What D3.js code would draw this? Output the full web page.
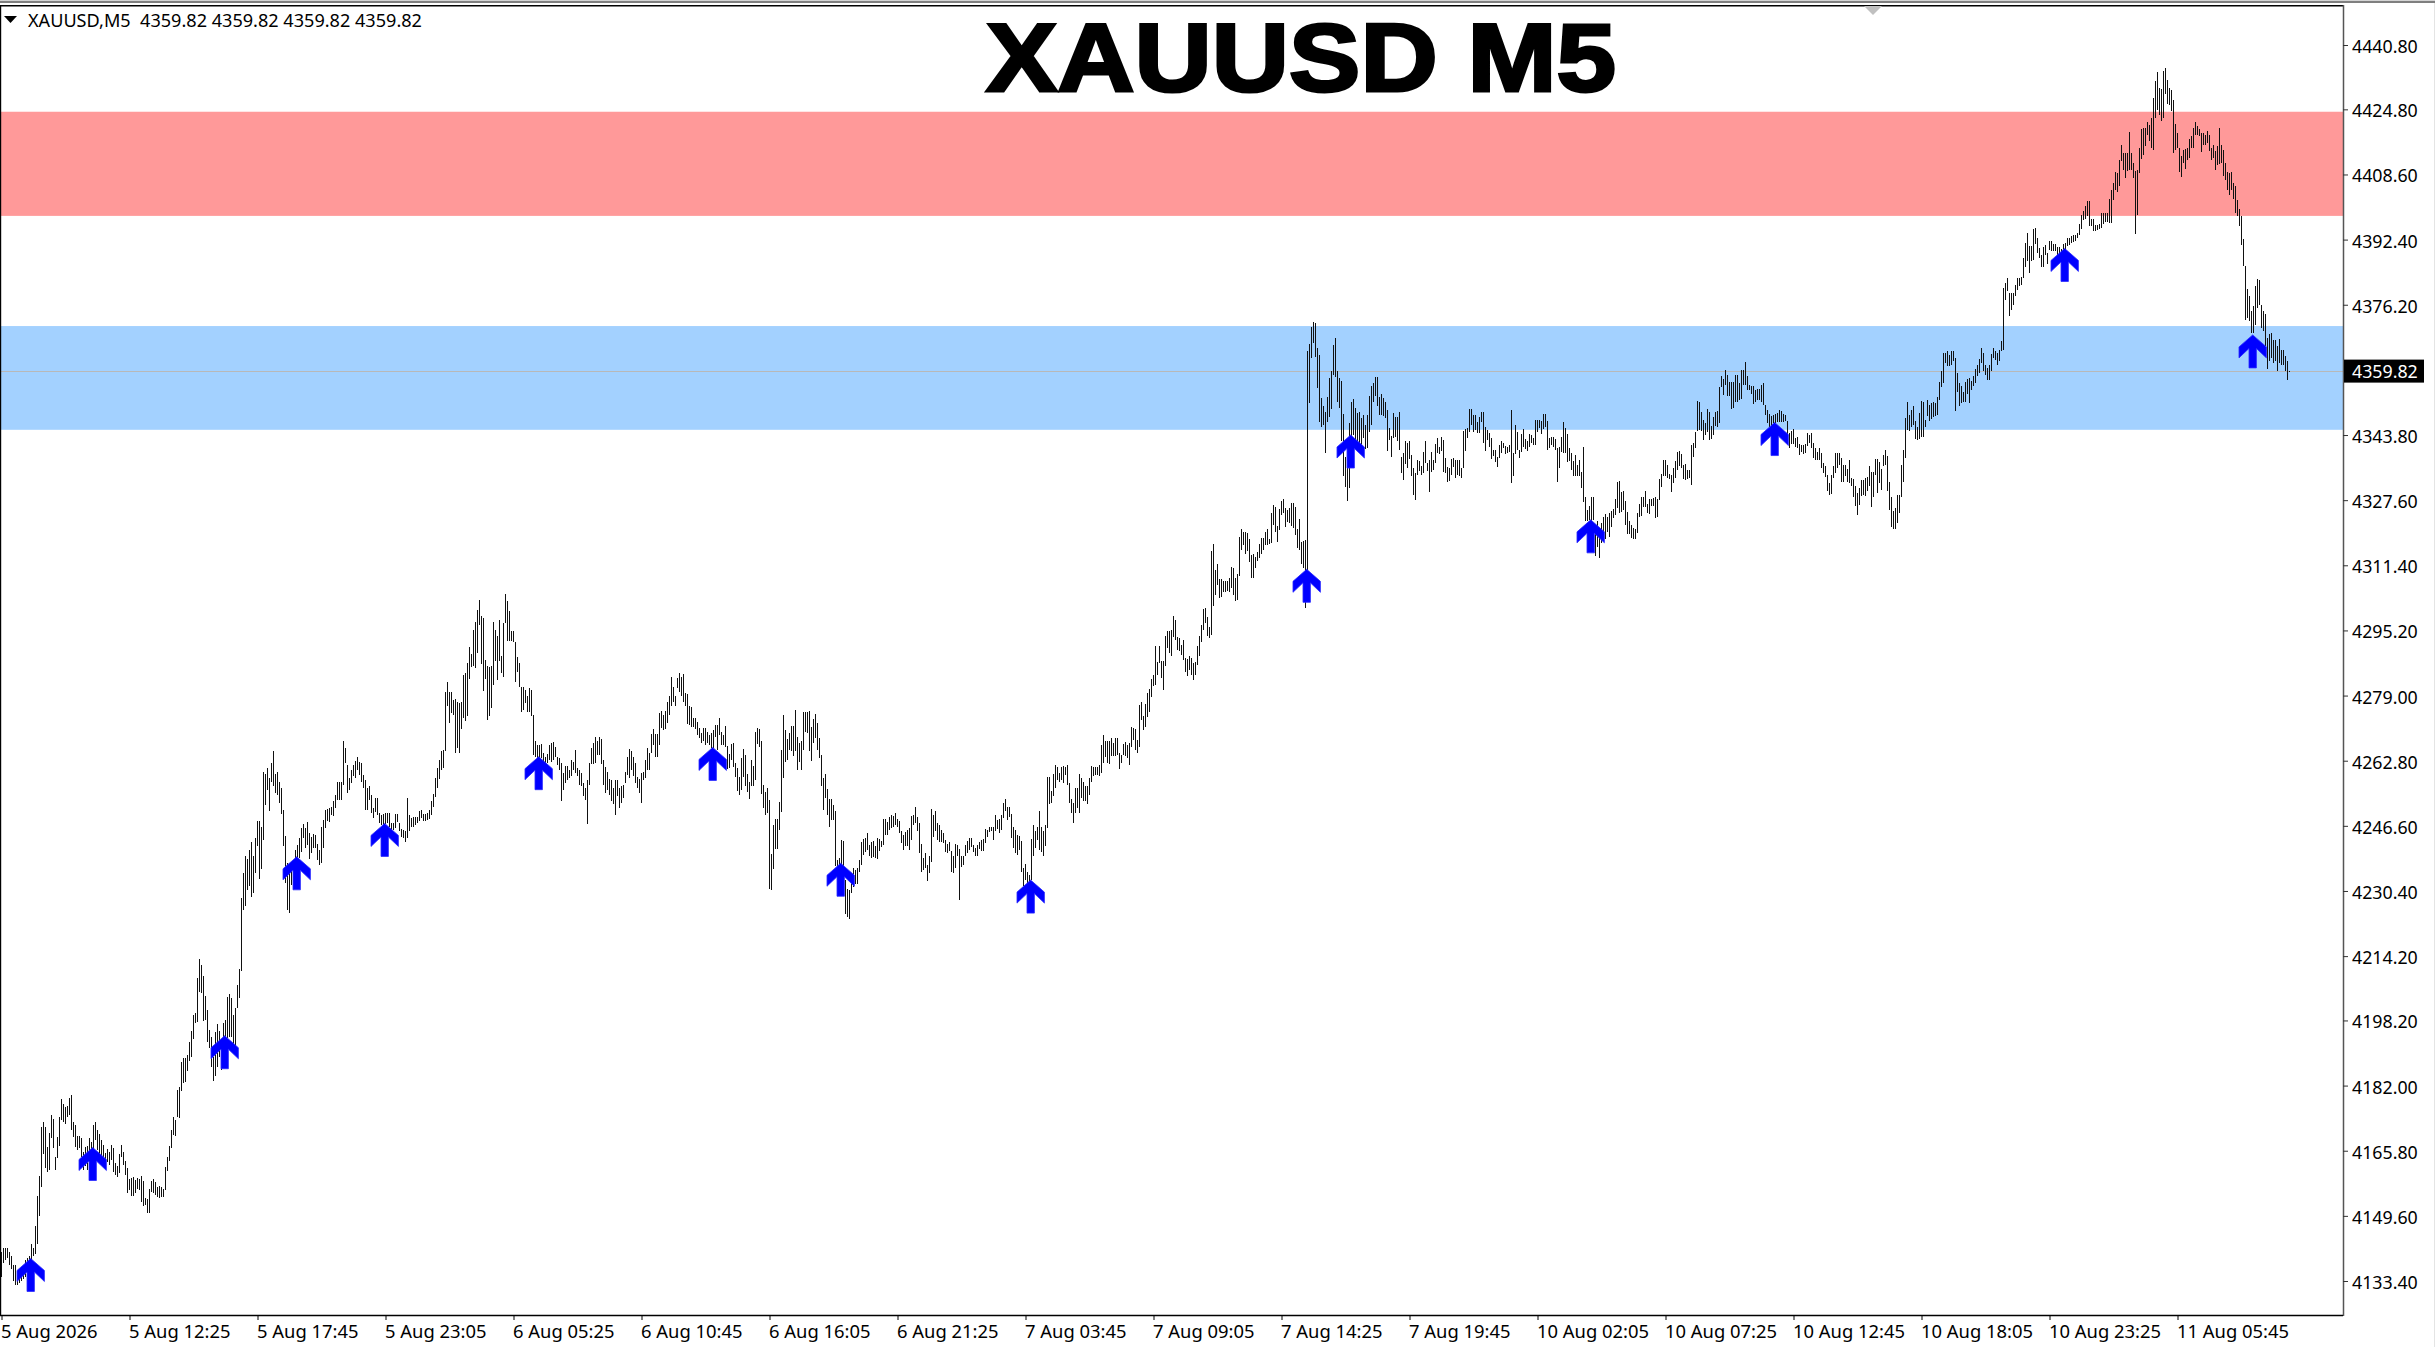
<!DOCTYPE html>
<html><head><meta charset="utf-8">
<script src="https://cdn.jsdelivr.net/npm/d3@7"></script>
<style>html,body{margin:0;padding:0;background:#fff;overflow:hidden}svg{display:block}</style>
</head><body><svg id="c" width="2435" height="1347"></svg>
<script>
const barHigh=[
4140.5,4141.5,4141.5,4141.5,4140.5,4139.5,4137.5,4137.5,4135,4135,
4135.5,4136.5,4138.5,4139,4139.5,4142.5,4141.5,4147,4154.5,4159.5,
4171.8,4173,4171.8,4166.8,4170.1,4174.7,4173.7,4164.3,4169.3,4174.3,
4178.7,4177.4,4176.7,4177,4178.8,4179.7,4173,4172.2,4169.5,4169.5,
4169,4165.6,4166.8,4167,4169,4168,4172.2,4172.9,4171,4170,
4168.5,4167.2,4165.2,4166.2,4165.6,4167.2,4166.4,4162.7,4162,4165,
4167.2,4165.6,4163.3,4161.4,4158.7,4159.1,4159.3,4158.5,4158.9,4158.7,
4159.5,4158.3,4154.1,4153.7,4156.2,4158.3,4158.7,4157.9,4156.7,4157,
4156.7,4156.4,4161.7,4164.3,4167,4171,4174.3,4173.4,4180.9,4181.6,
4187.8,4188.8,4188.8,4189.6,4192.9,4195.6,4199.6,4200,4208.7,4213.5,
4212,4209.3,4204.3,4200.8,4195.8,4194,4189.2,4195.4,4197.2,4195.6,
4191.7,4197.5,4198.3,4204.1,4204.8,4203.7,4199.6,4201.2,4207,4210.9,
4228.6,4234.8,4239,4238.3,4240.6,4242.7,4239,4243.5,4247.8,4247.7,
4246.4,4259.9,4259.5,4261,4258.5,4262.2,4265.3,4259.5,4259.9,4257.6,
4256,4250.6,4244,4237.3,4235.7,4235.7,4234.8,4240.6,4241.9,4243.5,
4246,4247,4246,4247.5,4244.8,4243.8,4244.6,4244.4,4242,4240.6,
4246.4,4248.1,4250.6,4250.8,4251,4251.4,4252.7,4254.3,4257.5,4257.6,
4257.6,4267.7,4265.9,4261.8,4258.5,4260.5,4261.8,4262.8,4263.6,4262.4,
4262.2,4259.3,4258,4256,4256.4,4254.3,4251,4253.5,4253.5,4249.9,
4249.3,4249.5,4249.8,4249.8,4249.9,4247.3,4247.4,4249.6,4249.5,4247.4,
4245.8,4245.6,4245.2,4253.5,4249.3,4248.5,4248.7,4248.8,4248.9,4250.3,
4250.6,4249.5,4249.5,4249.8,4250.6,4252.7,4254.6,4258.5,4261,4263,
4265.3,4265.5,4280,4282.3,4280,4279.9,4278,4278.1,4277.3,4277.1,
4277.3,4284.2,4284.7,4287.2,4291.2,4289.4,4295.4,4297.2,4300.3,4302.8,
4298.7,4298.4,4287.9,4286.4,4286,4286.4,4297.4,4295.4,4293.7,4297.7,
4288.9,4297,4304.3,4302.4,4300.1,4295,4295.1,4292.3,4288.6,4287.2,
4281.1,4281.1,4280.4,4279,4280.9,4280.4,4274.2,4267.7,4266.8,4266.8,
4267,4264.7,4263.8,4264.5,4266.8,4267.2,4267.4,4266.3,4263.8,4263.4,
4262.2,4259.7,4261.4,4261.4,4260.5,4263,4262.6,4265.5,4261,4260.5,
4259.7,4257.2,4256,4258,4262.2,4265.9,4267.2,4268.6,4267.6,4268.7,
4268.3,4263,4261.2,4260.1,4258.3,4258,4256,4258,4258,4256,
4256.6,4256.8,4260.1,4263.8,4265.7,4265.1,4263.8,4262.2,4258.7,4258.3,
4259.7,4259.9,4262.9,4265.9,4264.8,4269.5,4270.7,4269.5,4269.5,4274.6,
4275.2,4274.2,4275.2,4277.5,4279,4283.6,4281.1,4278.8,4283.3,4284.7,
4283.5,4284.3,4279.6,4279.4,4276.3,4276.1,4273.5,4273.5,4272.4,4271,
4269.6,4270.9,4270.9,4269.9,4269.2,4269.8,4270.5,4271.7,4271.7,4273.4,
4270,4269.2,4271.5,4266.5,4264.5,4267,4267.1,4262.2,4260.9,4258.7,
4263.4,4265.7,4264.2,4259.5,4257.4,4263,4261.5,4270,4270.9,4270.6,
4267.7,4256.8,4255.1,4256,4253,4239.6,4246.8,4248.3,4248.3,4252.5,
4265.5,4274.2,4270.5,4268.1,4269.6,4271.5,4271.5,4275.4,4268.8,4267.1,
4267.6,4274.9,4274.9,4274.9,4275.2,4271.3,4273.1,4274.4,4272.1,4268.4,
4264.2,4258.4,4259.5,4255.7,4253.2,4253.2,4251.8,4250.3,4238.1,4238.5,
4243.1,4242.8,4233.2,4230.8,4230.7,4232.3,4236,4235.5,4236,4238.1,
4242.5,4243.3,4243.5,4244.8,4241.9,4242.5,4242.9,4241.7,4243.7,4243.3,
4242.9,4248.3,4248.3,4247.5,4248.9,4249.2,4249.1,4249.7,4248.3,4247.8,
4245.2,4244.2,4245,4245.6,4246,4249.1,4249.2,4251.2,4248.7,4247.2,
4242.1,4238.7,4239.8,4236.9,4239,4250.7,4249.3,4250.3,4247.2,4246.7,
4245.6,4244.8,4243.1,4242.1,4242.5,4240.4,4239.1,4242.1,4241.9,4240.9,
4239,4239.2,4241.9,4242.9,4243.5,4243.5,4241.8,4241.2,4241.8,4242.5,
4243.1,4243.3,4245.8,4245.6,4246.4,4246.4,4246.2,4249.2,4248.1,4248.2,
4249.3,4252.4,4253.3,4251.4,4251.4,4249.5,4246.4,4245.6,4244.4,4244.1,
4242.9,4236.1,4237,4235.2,4234.4,4243.3,4246.8,4245.3,4246.2,4250.3,
4246.2,4245.2,4246.8,4258.7,4258.7,4255.3,4259.4,4261.8,4261.3,4259.7,
4261.2,4261.5,4261.3,4261.8,4257.2,4253.2,4252.4,4255.9,4255.9,4259.4,
4258.4,4257.6,4256.4,4256.6,4258.6,4261.5,4261.3,4261.2,4261.2,4261.8,
4266.7,4269.2,4267.8,4267.7,4267.6,4268.4,4267.2,4268.4,4268.4,4264.7,
4264.3,4267,4267.4,4266.8,4267.2,4271.2,4270.9,4270.7,4268,4276.7,
4277.3,4273.8,4277,4279.6,4280.6,4283,4284.2,4291.4,4287.3,4291.4,
4287.5,4287.5,4293.9,4295.1,4295,4295.4,4298.9,4297.9,4293.5,4293.3,
4291.7,4292.9,4288.3,4288.1,4288.8,4288.3,4287.1,4287.3,4291.4,4293.9,
4296.6,4300.6,4300.9,4298.5,4296,4315,4316.8,4310.2,4311.6,4308,
4308.1,4307.4,4307.4,4307.4,4308.2,4310.9,4310.7,4308.2,4309.3,4318.4,
4320.4,4319.8,4319.6,4319.4,4317.9,4314,4314.3,4313.5,4314.6,4316.8,
4318.2,4318.2,4319.8,4320.5,4317.9,4324.4,4326.5,4325.9,4321.1,4325.4,
4327.3,4328,4325.6,4325.2,4325.6,4326.9,4326.9,4325.8,4320.5,4322.9,
4317.1,4317.5,4317.7,4364.8,4366.4,4370.6,4371.8,4371.6,4365.4,4363.7,
4352.9,4351,4349.6,4353.2,4357.9,4359.6,4366.2,4367.9,4359.8,4357.9,
4357.3,4349,4338.4,4335.9,4346.7,4351.9,4352.8,4350.4,4349.2,4349.6,
4348,4348.8,4346.3,4348.8,4353.4,4356,4356.8,4358.3,4358.2,4353.2,
4353.9,4352.9,4351.9,4350,4345.5,4343.6,4349.4,4348.4,4348.2,4349.5,
4338.3,4339.4,4342.2,4341.7,4342.3,4338.8,4335.5,4334.4,4337.6,4337.4,
4336.2,4339.7,4342.3,4336.8,4337.6,4339.7,4337.6,4341.5,4343,4340.9,
4343.2,4342.6,4338,4335.9,4335.7,4337.8,4338,4337.6,4337.6,4337.6,
4335.5,4344.8,4345.2,4345.5,4350.2,4350.2,4348.8,4348.8,4347.1,4348.4,
4349.6,4349.5,4345.7,4345,4344.4,4343,4340.1,4340.1,4338.4,4341.3,
4342.4,4341.7,4341.1,4340.9,4341.3,4350,4339.3,4346.3,4344.6,4340.1,
4344,4345.2,4342.7,4342.3,4344,4343.8,4343,4347.5,4347.5,4347.5,
4347.4,4349,4349,4347.3,4343.1,4343.4,4343.4,4342.8,4340.5,4340.9,
4343.4,4347.1,4345.5,4344.1,4340.5,4339.3,4337.4,4338.8,4336.4,4337.6,
4334.7,4340.9,4328.5,4325.2,4326.2,4328.3,4328.3,4319.4,4322.3,4319.4,
4321.8,4323.3,4324.1,4323.5,4324.3,4325,4325.4,4328,4332.2,4332.4,
4329.7,4330,4327.4,4324.7,4322.4,4321.4,4320.6,4320.4,4324.3,4326.7,
4328.5,4328.5,4329.9,4326.7,4327.8,4327.8,4328.2,4328.5,4327.8,4332.9,
4334.1,4337.6,4337.6,4336.4,4334,4333.9,4335.5,4337.4,4339.7,4339.9,
4339.1,4336.4,4336.5,4335.1,4335.1,4341.2,4341.9,4344.6,4352.3,4352.1,
4349.6,4347.5,4346.7,4350.3,4349.6,4346.1,4348.4,4349.6,4349.8,4355.7,
4358.5,4357.7,4360,4358.7,4357.1,4357.1,4357.1,4358.7,4358.7,4356.7,
4360,4360,4361.9,4358.5,4356.3,4356.1,4356.1,4355,4355.3,4355.3,
4356.3,4356.7,4351.3,4349.9,4349.1,4348.6,4348.7,4349,4349.4,4350.1,
4349.7,4349.1,4348.8,4347.2,4344.3,4344.7,4345.3,4343,4343.3,4341.6,
4341.4,4341.2,4341.6,4344.3,4343.9,4344.3,4341.8,4340.5,4339.7,4340.5,
4339.3,4336.8,4336,4333.9,4331.8,4333.9,4336,4339.3,4339.3,4339.3,
4338,4336.4,4336.4,4335.3,4337.6,4333.1,4332.8,4331,4329.3,4330.6,
4332.5,4332.7,4333.1,4333.3,4336,4334.6,4334.6,4337.9,4337.9,4337.2,
4335.4,4338.9,4340.1,4338.7,4332.1,4328.3,4324.8,4325.6,4328.9,4328.9,
4336.4,4340,4348,4352,4348.8,4350.1,4350.9,4347.2,4345.8,4349.4,
4352.3,4352.1,4347.6,4352.4,4351.3,4351.7,4352.1,4351.7,4353.2,4357.1,
4359.6,4364.2,4364.2,4364.7,4363.8,4364.6,4364.7,4363,4359.2,4356.7,
4355.9,4354.6,4356.9,4357.7,4358,4357.3,4358.4,4360.2,4361.1,4362.8,
4365.4,4364.2,4361.3,4360.4,4361.3,4364,4365.4,4364.7,4364.2,4365,
4367.2,4380.3,4381.6,4382.8,4379.1,4379.1,4379.1,4381.2,4382.8,4382.8,
4383.1,4387.8,4391.5,4394,4390.9,4390.9,4395,4395.3,4392.8,4390.3,
4388.6,4390.5,4391.1,4389,4392,4392,4391.4,4391.4,4390.5,4390.5,
4390,4391.4,4391.5,4392.8,4392.8,4393.4,4393.6,4393.6,4394,4396.3,
4398.6,4399.4,4400.7,4401.9,4402.1,4397.5,4397.5,4396.1,4396.1,4396.3,
4399,4399,4399,4399,4402.5,4404.8,4406.5,4409.1,4408.9,4412.3,
4416,4414,4414,4414,4419.2,4414,4411.5,4409.4,4409.8,4415.2,
4419.8,4420.2,4420.2,4421.7,4420.8,4422.7,4427.6,4431.8,4434.1,4430.1,
4429.9,4434.4,4435.1,4432.2,4430.1,4429.5,4427,4421.2,4418.9,4415.2,
4413.1,4414.8,4414.9,4415.2,4417.3,4418.1,4420.2,4421.7,4420.6,4420,
4418.8,4418.9,4418.3,4419.3,4418.5,4415.2,4415.9,4414.4,4415.6,4420.2,
4416,4414.8,4411.5,4409.1,4408.9,4409.1,4406.5,4405.7,4402.3,4399.9,
4398.2,4392.6,4385.8,4380,4378.3,4374.6,4375.8,4380.8,4382.6,4382.4,
4376.2,4374.7,4374,4367.9,4368.8,4369.2,4367.5,4367.5,4365.9,4367.7,
4365,4364.9,4363.5,4362.1,4359.82];
const barLow=[
4134.5,4138,4138.5,4139,4137.5,4136.5,4133.5,4132.5,4132.5,4133,
4133.5,4134,4134.5,4135,4136,4138.5,4139.5,4140,4142.6,4149.6,
4156.9,4165,4161.4,4160.6,4161,4169,4166.4,4161,4164,4167,
4173.4,4173,4172.4,4174.3,4174.7,4171,4169.3,4166.8,4166.1,4166.4,
4164.3,4161,4162,4161,4161.5,4162,4164.3,4168.5,4166,4164.3,
4163.5,4164.3,4161.8,4163,4162.2,4163.5,4160.6,4159.8,4159.2,4160.2,
4164.3,4162.2,4159.8,4155.4,4156,4154.6,4154.6,4155.2,4156.4,4156,
4153.1,4152,4152.3,4150.4,4150.4,4155.6,4155.2,4154.8,4154.2,4154.1,
4154.2,4154.2,4156,4160.8,4163.3,4166.4,4169.7,4169.5,4174.1,4173.9,
4180.7,4182.7,4183,4185.7,4188,4189.2,4193.7,4197.5,4197.7,4205.4,
4205.1,4198.1,4198.3,4192.9,4191.3,4186.7,4183.2,4184.4,4186.7,4189.2,
4185.9,4190,4190,4193.8,4194.2,4194.2,4192.1,4191.7,4201.2,4203.7,
4210.4,4225.7,4226.7,4230.7,4231.7,4229,4230,4234.8,4241.5,4233.4,
4235.9,4243,4251.8,4255.6,4250.2,4257.6,4256.4,4254.7,4254.3,4252.2,
4249.5,4241.5,4232.5,4225.7,4224.9,4232,4231,4233,4235.7,4238.6,
4240.2,4243.5,4241,4241.9,4238.4,4239.8,4241,4241.2,4238,4236.9,
4237.3,4241,4246,4247.7,4247.5,4249.3,4249.1,4251,4253,4253,
4253,4256.8,4262.2,4254.7,4255.6,4257.2,4258.9,4258.5,4260.5,4259.3,
4257.6,4256,4250.6,4250.6,4253,4249.8,4248.5,4250,4249.3,4247.3,
4246.9,4246.9,4247,4247.3,4246.4,4245.2,4245.6,4246,4247.5,4245.2,
4243.8,4243.5,4242.7,4243.5,4245.4,4246.4,4246.4,4246.9,4247.3,4247.7,
4248.5,4247.8,4247.9,4248.1,4248.3,4249.3,4251.4,4253.7,4256,4258.2,
4260.5,4261,4265.1,4276.5,4272.1,4274.6,4274.2,4264.8,4265.9,4264.7,
4270.7,4273.4,4272.6,4273.8,4283.1,4286.1,4286.4,4285.8,4289.6,4296.6,
4286.9,4280.2,4283.2,4273,4273.8,4276,4281.7,4287.5,4282.9,4287.6,
4284.6,4283.5,4297,4292.5,4292.5,4292.5,4292.3,4282.3,4284.8,4281.1,
4275,4275.5,4277.1,4275,4275,4274,4264.3,4263.8,4263,4263,
4263.4,4262.2,4261.8,4262.2,4263,4262.6,4263,4263.8,4261.8,4260.5,
4252.9,4255.4,4257.2,4258,4258.5,4258.9,4260.5,4259.7,4258.9,4256.8,
4256.4,4253.9,4253,4247.1,4256.8,4262,4262,4262.2,4264.3,4264.3,
4262,4256.8,4254.7,4255.6,4254.3,4252.9,4252,4249.3,4253.9,4251,
4252.2,4253.5,4257.2,4259.3,4258.5,4260.5,4258.9,4257.2,4256,4254.7,
4252.4,4258,4258.5,4260.4,4260.4,4264.7,4266.8,4263.7,4263.7,4266.6,
4270.9,4270.5,4270.7,4272.1,4274.2,4276.3,4277.5,4276.5,4280.9,4280,
4278.8,4277.5,4276.3,4272,4271.7,4271.3,4271.3,4270.7,4269.2,4268.4,
4267.1,4267.7,4266.7,4267.1,4266.7,4265.9,4265.9,4268.8,4265.5,4269.2,
4266.7,4266.6,4266.3,4260.7,4260.9,4263,4261.2,4258.7,4255.3,4254.3,
4255.4,4258.7,4256.4,4255.1,4253.3,4256.4,4256.5,4258,4267,4266.3,
4254.5,4251,4249.3,4249.9,4230.8,4230.7,4235.9,4240.9,4240.9,4245.6,
4250.1,4258.6,4262.6,4263,4265.5,4265.1,4264,4265.1,4260.5,4262.6,
4260.4,4265.5,4269.9,4269.6,4265.1,4262.7,4267.3,4268.4,4265.5,4263.4,
4256.4,4250.6,4253.5,4249.3,4246.4,4248.1,4248.1,4236.5,4234.8,4235.2,
4236.5,4233.2,4224.7,4223.9,4223.5,4230,4231.5,4232.2,4232.1,4235.2,
4236.9,4239.4,4240.2,4240.6,4239.1,4238.5,4238.9,4238.5,4238.4,4240.4,
4241.4,4241.9,4244.3,4244.2,4245.6,4246,4246.4,4246.8,4246.4,4244.8,
4242.3,4240.6,4241.7,4241.7,4240.6,4243,4246.8,4247.2,4245.4,4239.8,
4235.2,4235.6,4236.1,4233,4234.8,4237.7,4243.9,4245.2,4243.1,4242.5,
4242.7,4242.3,4240,4239.8,4240.4,4235.2,4234.8,4236.1,4239,4228.2,
4236.3,4236.9,4239,4239.8,4240.6,4241.4,4240.2,4239,4239,4240.8,
4240.4,4240.4,4242.4,4243.9,4245,4245.4,4243.1,4245.2,4245.8,4244.9,
4245.6,4248.5,4250.4,4248.1,4248.7,4243.5,4241,4239.8,4239.4,4240.6,
4235.2,4231.7,4233.2,4231.5,4232.3,4233.2,4239,4241,4243.1,4240.6,
4240,4239.1,4241.7,4246,4252,4252.2,4253.9,4256.1,4258,4257.6,
4258,4257.2,4259.3,4256.8,4252.2,4249.9,4247.2,4249.9,4251,4249.7,
4253.5,4252.9,4252.9,4252,4254.3,4257.6,4258.9,4259.3,4259.3,4258.9,
4259.7,4262.2,4263.8,4262.2,4262,4264,4263.9,4263.9,4264.3,4260.8,
4262.2,4264.3,4263.9,4263.5,4261.8,4266.1,4268,4265.5,4264.7,4266.1,
4272.8,4270.5,4271.3,4273.7,4274.8,4278.6,4281.3,4281.7,4284,4287.1,
4283.4,4280.3,4286.3,4290.8,4289.6,4288.8,4293.6,4292.9,4290.4,4290,
4289.2,4287.9,4284.8,4283.8,4285.4,4284.2,4282.9,4284.2,4286.5,4288.8,
4292.3,4295.4,4297,4293.7,4293.3,4294,4301.2,4304.1,4306.6,4303.3,
4303.5,4304.7,4304.7,4304.9,4304.7,4305.7,4304.1,4302.4,4302.7,4308.7,
4315.3,4316.5,4314.3,4314.9,4312.1,4308.2,4308.2,4310.7,4312.4,4313.2,
4314.3,4315.3,4316.5,4316.5,4316.8,4316.9,4321.5,4319.7,4317.1,4320.3,
4324,4324.4,4320.8,4322.1,4321.9,4321.1,4320.7,4319,4315.7,4315.3,
4311.8,4310.7,4300.7,4310.2,4351.7,4362.9,4366.6,4363.3,4355.4,4347.1,
4345.9,4346.3,4339.3,4347.1,4348.4,4350.2,4358.7,4358.3,4352.1,4350.5,
4342.4,4333.7,4330.8,4327.5,4330.6,4343.4,4343.8,4342.6,4342.2,4341.7,
4340.5,4343,4340.3,4340.5,4344.6,4346.3,4352.1,4353.4,4351,4348.8,
4348.8,4348.6,4348,4339.8,4342.6,4338.4,4343,4343.2,4342.2,4340.1,
4334.3,4332.5,4336.6,4335.5,4337.8,4333.5,4328.9,4327.6,4333.9,4334.9,
4333.9,4334.4,4336.8,4334.9,4329.7,4334.7,4335.1,4336.8,4339.4,4339,
4339.8,4334.7,4334.3,4332.2,4332.4,4333.9,4335.9,4333,4333.9,4333.5,
4333,4335.5,4339.9,4343,4344.6,4346.3,4344.6,4345,4344.2,4344.4,
4347.1,4341.7,4339.9,4342.6,4340.9,4337.8,4338.6,4337.2,4335.9,4338,
4339.3,4340.5,4339,4339.3,4339.7,4331.8,4333.7,4339.1,4340.1,4338.2,
4339.7,4340.9,4340.3,4339.9,4340.9,4341.7,4341.3,4341.2,4344.6,4345.5,
4344,4345.3,4345.9,4340.1,4340.5,4341.2,4340.9,4340.1,4332,4335.5,
4339.7,4339.4,4339.4,4337.2,4337.3,4335.1,4333.7,4333.7,4333.6,4333.5,
4330.6,4327.1,4322.3,4322.3,4322.7,4322.3,4322.7,4313.7,4316,4313.3,
4316.9,4317.9,4317.9,4319.8,4318.5,4321,4323.1,4323.9,4325.6,4324.3,
4324.7,4325.2,4321.4,4319.1,4319.1,4318.1,4317.9,4317.9,4319.5,4323.5,
4323.7,4325.8,4325.8,4324.3,4324.2,4326.2,4326.2,4323.1,4323.5,4327.6,
4330.8,4333.5,4333.5,4333,4332.9,4329.7,4331.8,4333,4335.1,4336.2,
4335.5,4332.9,4332.6,4332.8,4333,4331.4,4338.4,4340.5,4344.8,4345.1,
4344.9,4342.6,4343.8,4344.6,4342.6,4342.7,4343.8,4346.1,4345.9,4346.7,
4355.7,4353.8,4356.3,4353.6,4353.4,4350.2,4350.4,4352.1,4352.1,4352.5,
4352.7,4356.3,4356.3,4355,4354.9,4354.1,4351.5,4352.1,4352.6,4352.4,
4352.1,4351.3,4348.8,4346.8,4345.8,4345.8,4346.8,4346.8,4347,4347,
4347,4347,4347.2,4343.9,4340.5,4341.6,4341.6,4340.8,4340.5,4338.9,
4339.7,4339.1,4339.3,4341,4341.8,4340.5,4338.2,4337.6,4337.6,4337.5,
4335.6,4334.3,4333.3,4329.8,4328.9,4329.1,4333.1,4334.3,4335.6,4336.4,
4332,4332.2,4333.5,4332.2,4331.8,4331,4328.3,4326.2,4324,4326.4,
4328.7,4328.9,4328.7,4329.8,4331.2,4326,4328.5,4333.9,4329.3,4331.8,
4330.2,4336,4336.4,4329.9,4325.2,4320.9,4320.4,4320.4,4321.9,4324.4,
4328.5,4332.2,4338.2,4345.1,4344.7,4345.8,4346.3,4342.8,4342.6,4342.8,
4343.3,4343.2,4345.9,4348.6,4347.2,4347.8,4348.4,4348.6,4348.8,4352.6,
4355.7,4356.7,4361.7,4360.9,4361,4361.3,4362.1,4349.7,4354.6,4350.9,
4351.7,4351.9,4352.1,4354.1,4351.7,4355,4355.9,4356.7,4358.4,4359.2,
4361.7,4359.6,4358.8,4357.5,4357.5,4359.6,4362.9,4362.5,4361.3,4362.3,
4364.6,4365,4377.3,4379.5,4373.3,4375,4376.2,4378.4,4379.9,4380.8,
4381.2,4382.8,4385.7,4387,4384.2,4387.2,4387.4,4391.3,4389,4387.8,
4385.7,4385.7,4388.6,4386.4,4389.9,4389.6,4389.6,4389.6,4388.4,4388.6,
4388.2,4389,4389.5,4390.7,4391.1,4391.5,4391.7,4392,4392.8,4393.6,
4395,4397.3,4397.5,4398.2,4395.8,4395.7,4394.6,4394.6,4394.9,4395,
4395.3,4396.4,4396.7,4396.7,4396.5,4396.5,4402.3,4404.8,4404.2,4405.7,
4411.9,4409.8,4407.7,4409.4,4409.8,4409.8,4407.7,4393.8,4398.6,4409,
4412.5,4413.5,4415.6,4418.5,4416.9,4415.2,4414.8,4422.7,4424.7,4423.5,
4421.8,4422.7,4428.5,4426.2,4426,4424.3,4413.9,4414.8,4415.2,4409.1,
4408,4411.5,4410,4412.1,4412.7,4415.2,4415.2,4418.5,4418.3,4418.1,
4414.1,4416,4416,4416.4,4414.4,4412.3,4412.7,4409.8,4410.9,4411.1,
4411.5,4408.2,4407.3,4404.8,4403.6,4404.8,4402.5,4399,4398.2,4395.7,
4391,4385.8,4372.5,4372.9,4372.1,4369.2,4369.2,4371.2,4375.4,4376.2,
4370.4,4369.6,4365.9,4360.1,4362.1,4363,4361.7,4362.1,4359.8,4361.7,
4361.3,4361.3,4359.6,4357.4,4359.82];
const arrowBars=[15,46,112,148,192,269,356,420,515,653,675,795,887,1032,1126];
const arrowPrices=[4139,4166.6,4194.4,4238.9,4247.2,4263.8,4266.1,4237.3,4233.1,4310.4,4343.8,4322.7,4346.9,4390.2,4368.7];
const priceTicks=[4440.8,4424.8,4408.6,4392.4,4376.2,4343.8,4327.6,4311.4,4295.2,4279,4262.8,4246.6,4230.4,4214.2,4198.2,4182,4165.8,4149.6,4133.4];
const timeLabels=["5 Aug 2026","5 Aug 12:25","5 Aug 17:45","5 Aug 23:05","6 Aug 05:25","6 Aug 10:45","6 Aug 16:05","6 Aug 21:25","7 Aug 03:45","7 Aug 09:05","7 Aug 14:25","7 Aug 19:45","10 Aug 02:05","10 Aug 07:25","10 Aug 12:45","10 Aug 18:05","10 Aug 23:25","11 Aug 05:45"];
const timeBarStep=64;
const supplyZone=[4398.3,4424.2];
const demandZone=[4345.1,4370.9];
const lastPrice=4359.82;
const chartTitle="XAUUSD M5";
const symbolLine="XAUUSD,M5  4359.82 4359.82 4359.82 4359.82";

const L=1,T=5,R=2343,B=1315;
const y=d3.scaleLinear().domain([4133.4,4440.8]).range([1281,45]);
const x=d3.scaleLinear().domain([0,1144]).range([1.5,2289.5]);
const svg=d3.select("#c");
const F='"Noto Sans",sans-serif';

// window chrome
svg.append("rect").attr("x",0).attr("y",0).attr("width",2435).attr("height",1).attr("fill","#d4d4d4");
svg.append("rect").attr("x",0).attr("y",1).attr("width",2435).attr("height",2).attr("fill","#7f7f7f");
svg.append("rect").attr("x",2434).attr("y",3).attr("width",1).attr("height",1344).attr("fill","#e4e4e4");

// zones
svg.append("rect").attr("x",L).attr("width",R-L).attr("y",y(supplyZone[1])).attr("height",y(supplyZone[0])-y(supplyZone[1])).attr("fill","#ff9999");
svg.append("rect").attr("x",L).attr("width",R-L).attr("y",y(demandZone[1])).attr("height",y(demandZone[0])-y(demandZone[1])).attr("fill","#a3d1ff");
// bid line
svg.append("line").attr("x1",L).attr("x2",R).attr("y1",Math.round(y(lastPrice))+.5).attr("y2",Math.round(y(lastPrice))+.5).attr("stroke","#b8b8b8").attr("stroke-width",1);

// bars
svg.append("g").attr("stroke","#111").attr("stroke-width",1).attr("shape-rendering","crispEdges")
 .selectAll("line").data(barHigh).join("line")
 .attr("x1",(d,i)=>x(i)).attr("x2",(d,i)=>x(i))
 .attr("y1",d=>y(d)).attr("y2",(d,i)=>Math.max(y(barLow[i]),y(d)+1));

// arrows
const arrow="M0,0L13.7,12L13.7,23L3.7,13.5L3.7,33L-3.7,33L-3.7,13.5L-13.7,23L-13.7,12Z";
svg.append("g").selectAll("path").data(arrowBars).join("path")
 .attr("d",arrow).attr("fill","#0000ff").attr("stroke","#2a2aff").attr("stroke-width",0.8)
 .attr("transform",(d,i)=>`translate(${x(d)-.8},${y(arrowPrices[i])})`);

// frame
svg.append("rect").attr("x",0).attr("y",T).attr("width",R).attr("height",1.5).attr("fill","#000");
svg.append("rect").attr("x",0).attr("y",T).attr("width",1.2).attr("height",B-T).attr("fill","#000");

// price axis
const ya=svg.append("g").attr("transform",`translate(${R},0)`)
 .call(d3.axisRight(y).tickValues(priceTicks).tickFormat(d3.format(".2f")).tickSize(5).tickPadding(4));
ya.select(".domain").attr("d",`M0.5,${T}V${B+1}`).attr("stroke","#555").attr("stroke-width",1.5);
ya.selectAll(".tick line").attr("stroke","#333");
ya.selectAll("text").attr("dy","0.42em").style("font-family",F).style("font-size","17.8px").attr("fill","#000");

// last price box
svg.append("rect").attr("x",2344).attr("y",y(lastPrice)-11).attr("width",80).attr("height",23).attr("fill","#000");
svg.append("text").attr("x",2352).attr("y",y(lastPrice)+7).style("font-family",F).style("font-size","17.8px").attr("fill","#fff").text(d3.format(".2f")(lastPrice));

// time axis
const xa=svg.append("g").attr("transform",`translate(0,${B})`)
 .call(d3.axisBottom(x).tickValues(timeLabels.map((d,i)=>i*timeBarStep)).tickFormat((d,i)=>timeLabels[i]).tickSize(5).tickPadding(5));
xa.select(".domain").attr("d",`M0,0.5H${R}`).attr("stroke","#000").attr("stroke-width",1.5);
xa.selectAll(".tick line").attr("stroke","#000");
xa.selectAll("text").attr("text-anchor","start").attr("x",-1).style("font-family",F).style("font-size","18.4px").attr("fill","#000");

// header
svg.append("path").attr("d","M4,16H17L10.5,23Z").attr("fill","#000");
svg.append("text").attr("x",28).attr("y",27).style("font-family",F).style("font-size","18.1px").attr("fill","#000").style("white-space","pre").text(symbolLine);
svg.append("path").attr("d","M1864,6H1882L1873,15Z").attr("fill","#c0c0c0");
svg.append("text").attr("x",986).attr("y",91).style("font-family",'"Liberation Sans",Arial,sans-serif').style("font-weight",700).style("font-size","97px")
 .attr("textLength",630).attr("lengthAdjust","spacingAndGlyphs").attr("fill","#000").attr("stroke","#000").attr("stroke-width",3).text(chartTitle);
</script></body></html>
